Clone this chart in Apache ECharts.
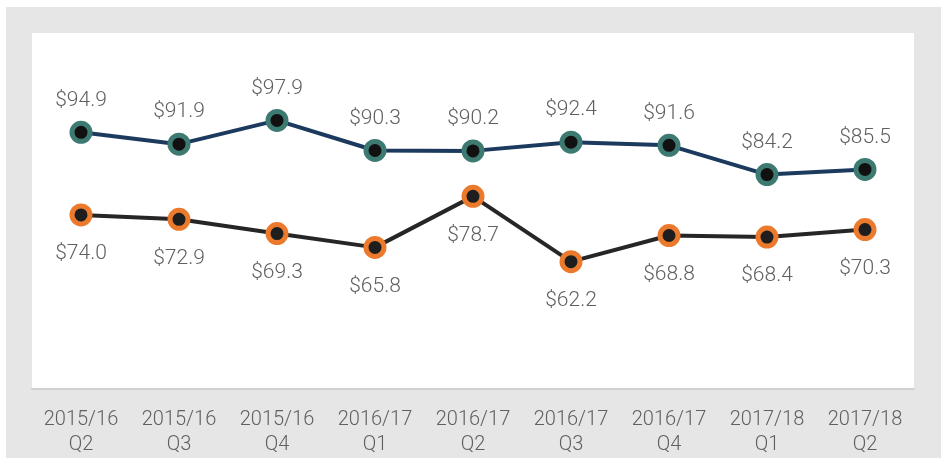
<!DOCTYPE html>
<html>
<head>
<meta charset="utf-8">
<script src="https://cdn.jsdelivr.net/npm/echarts@6/dist/echarts.min.js"></script>
<style>
  html, body { margin: 0; padding: 0; background: #fff; }
  #chart { width: 941px; height: 459px; }
</style>
</head>
<body>
<div id="chart"></div>
<script>
  // quarters on the x axis
  var quarters = ['2015/16\nQ2', '2015/16\nQ3', '2015/16\nQ4', '2016/17\nQ1', '2016/17\nQ2',
                  '2016/17\nQ3', '2016/17\nQ4', '2017/18\nQ1', '2017/18\nQ2']
  var upperValues = [94.9, 91.9, 97.9, 90.3, 90.2, 92.4, 91.6, 84.2, 85.5]
  var lowerValues = [74.0, 72.9, 69.3, 65.8, 78.7, 62.2, 68.8, 68.4, 70.3]

  var labelFont = 'Roboto, Lato, sans-serif'

  var dom = echarts.init(document.getElementById('chart'))
  var option = {
    backgroundColor: '#fff',
    animation: false,
    graphic: [{
      type: 'rect',
      z: -10,
      shape: { x: 6, y: 7, width: 935, height: 451 },
      style: { fill: '#e6e6e6' }
    }],
    grid: {
      left: 32,
      right: 27,
      top: 33,
      bottom: 70,
      show: true,
      backgroundColor: '#fff',
      borderWidth: 0
    },
    xAxis: {
      type: 'category',
      data: quarters,
      axisLine: { lineStyle: { color: '#d0d0d0', width: 2 } },
      axisTick: { show: false },
      axisLabel: {
        interval: 0,
        color: '#606060',
        fontSize: 20,
        fontFamily: labelFont,
        fontWeight: 300,
        lineHeight: 25,
        margin: 18
      }
    },
    yAxis: {
      type: 'value',
      min: 30,
      max: 120,
      show: false,
      splitLine: { show: false }
    },
    series: [{
      name: 'upper',
      type: 'line',
      data: upperValues,
      symbol: 'circle',
      symbolSize: 18,
      lineStyle: { color: '#1c3a5e', width: 4 },
      itemStyle: { color: '#111', borderColor: '#3d7a72', borderWidth: 5 },
      label: {
        show: true,
        position: 'top',
        distance: 10,
        formatter: function (p) { return '$' + p.value.toFixed(1) },
        color: '#606060',
        fontSize: 21,
        fontFamily: labelFont,
        fontWeight: 300
      }
    }, {
      name: 'lower',
      type: 'line',
      data: lowerValues,
      symbol: 'circle',
      symbolSize: 18,
      lineStyle: { color: '#262626', width: 4 },
      itemStyle: { color: '#1e1e1e', borderColor: '#ec7a2c', borderWidth: 5 },
      label: {
        show: true,
        position: 'bottom',
        distance: 17,
        formatter: function (p) { return '$' + p.value.toFixed(1) },
        color: '#606060',
        fontSize: 21,
        fontFamily: labelFont,
        fontWeight: 300
      }
    }]
  }
  dom.setOption(option)
  window.addEventListener('resize', dom.resize)
</script>
</body>
</html>
